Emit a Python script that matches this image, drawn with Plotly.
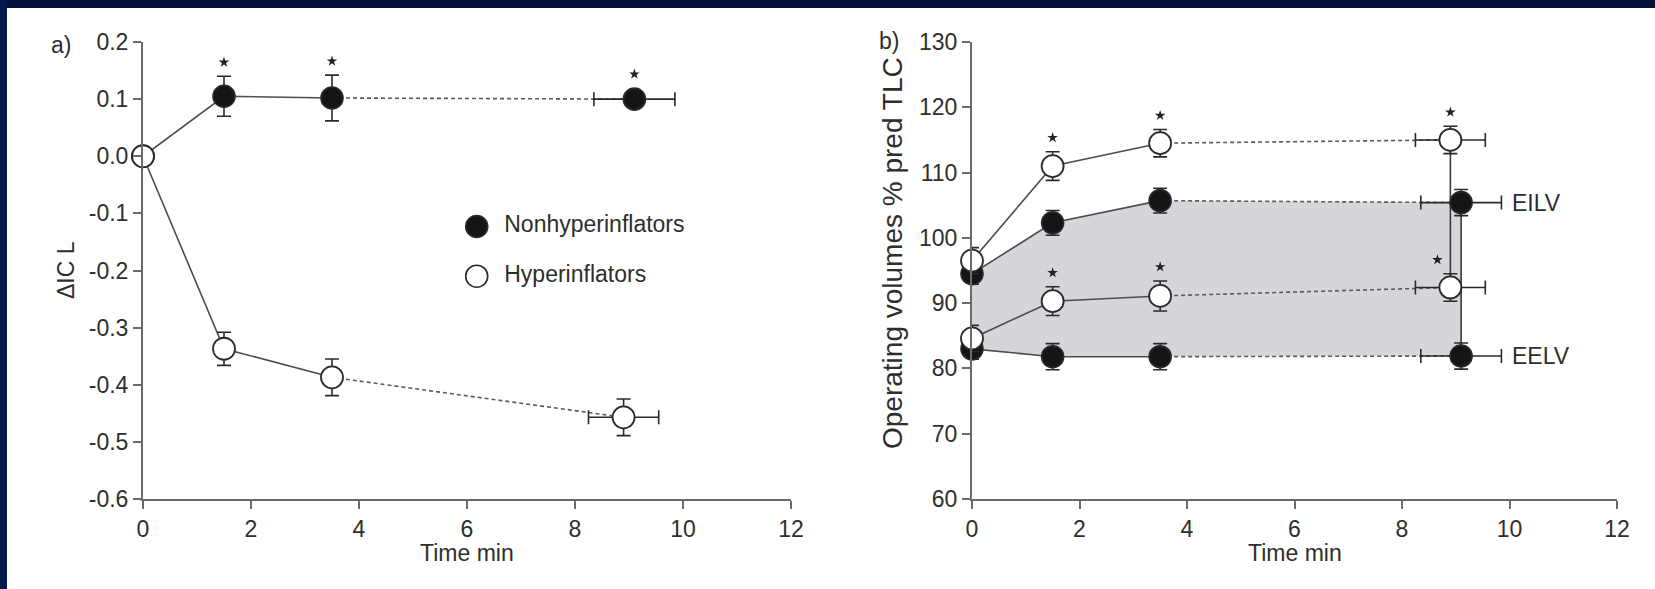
import plotly.graph_objects as go

# ---------------- data ----------------
# Time points (min); the final point is the end-exercise mean with its SD of time
time_nonhyp = [0, 1.5, 3.5, 9.1]
time_hyp = [0, 1.5, 3.5, 8.9]
time_err_nonhyp = [0, 0, 0, 0.75]
time_err_hyp = [0, 0, 0, 0.65]

# Panel a: change in inspiratory capacity (L)
dic_nonhyp = [0.0, 0.105, 0.102, 0.100]
dic_nonhyp_err = [0.0, 0.035, 0.040, 0.012]
dic_hyp = [0.0, -0.337, -0.387, -0.457]
dic_hyp_err = [0.0, 0.029, 0.032, 0.032]

# Panel b: operating lung volumes (% predicted TLC)
eilv_nonhyp = [94.5, 102.3, 105.7, 105.4]
eilv_nonhyp_err = [1.6, 1.9, 1.9, 2.0]
eelv_nonhyp = [83.0, 81.8, 81.8, 81.9]
eelv_nonhyp_err = [1.6, 2.0, 2.0, 2.0]
eilv_hyp = [96.5, 111.0, 114.5, 115.0]
eilv_hyp_err = [2.0, 2.2, 2.1, 2.1]
eelv_hyp = [84.6, 90.3, 91.1, 92.4]
eelv_hyp_err = [2.0, 2.2, 2.3, 2.1]

# indices of time points flagged as significant (*)
starred = [1, 2, 3]

# axis ticks
x_ticks = [0, 2, 4, 6, 8, 10, 12]
a_ticks = [0.2, 0.1, 0.0, -0.1, -0.2, -0.3, -0.4, -0.5, -0.6]
a_ticklabels = ["0.2", "0.1", "0.0", "-0.1", "-0.2", "-0.3", "-0.4", "-0.5", "-0.6"]
b_ticks = [60, 70, 80, 90, 100, 110, 120, 130]
b_ticklabels = ["60", "70", "80", "90", "100", "110", "120", "130"]

# ---------------- geometry & style ----------------
W, H = 1655, 589
A_X0, A_X1 = 143, 791
B_X0, B_X1 = 972, 1617
Y_TOP, Y_BOT = 42, 499
A_RANGE = [-0.6, 0.2]
B_RANGE = [60, 130]
X_RANGE = [0, 12]

FONT = "Liberation Sans, Arial, Helvetica, sans-serif"
TXT = "#2e2e2e"
AXC = "#6b6b6b"
MARK_LINE = "#2a2a2a"
LINE_C = "#4d4d4d"
MSIZE = 22


def pxx(x):
    return x / W


def pxy(y):
    return 1 - y / H


a_ppu = (Y_BOT - Y_TOP) / (A_RANGE[1] - A_RANGE[0])
b_ppu = (Y_BOT - Y_TOP) / (B_RANGE[1] - B_RANGE[0])
x_ppu = (A_X1 - A_X0) / (X_RANGE[1] - X_RANGE[0])

fig = go.Figure()


def add_series(xa, ya, t, y, yerr, terr, filled, name):
    # solid segment for the first three samples, dashed to the end point
    fig.add_trace(go.Scatter(x=t[:3], y=y[:3], mode="lines", xaxis=xa, yaxis=ya,
                             line=dict(color=LINE_C, width=1.6), showlegend=False,
                             hoverinfo="skip"))
    fig.add_trace(go.Scatter(x=t[2:], y=y[2:], mode="lines", xaxis=xa, yaxis=ya,
                             line=dict(color="#5a5a5a", width=1.6, dash="4px,3px"),
                             showlegend=False, hoverinfo="skip"))
    fig.add_trace(go.Scatter(
        x=t, y=y, mode="markers", xaxis=xa, yaxis=ya, name=name, showlegend=False,
        cliponaxis=False,
        marker=dict(size=MSIZE, color="#151515" if filled else "white",
                    line=dict(color=MARK_LINE, width=1.6 if filled else 1.8)),
        error_y=dict(type="data", array=yerr, color=MARK_LINE, thickness=1.6, width=7),
        error_x=dict(type="data", array=terr, color=MARK_LINE, thickness=1.6, width=7),
    ))


def add_stars(xa, ya, t, y, yerr, ppu, xshift_px=None):
    sx, sy = [], []
    for k, i in enumerate(starred):
        off = max(yerr[i] * ppu, MSIZE / 2) + 14
        shift = 0 if xshift_px is None else xshift_px[k]
        sx.append(t[i] + shift / x_ppu)
        sy.append(y[i] + off / ppu)
    fig.add_trace(go.Scatter(x=sx, y=sy, mode="markers", xaxis=xa, yaxis=ya,
                             cliponaxis=False, showlegend=False, hoverinfo="skip",
                             marker=dict(symbol="star", size=8, color="#222",
                                         line=dict(width=0))))


# ---------- panel a ----------
add_series("x", "y", time_nonhyp, dic_nonhyp, dic_nonhyp_err, time_err_nonhyp, True,
           "Nonhyperinflators")
add_series("x", "y", time_hyp, dic_hyp, dic_hyp_err, time_err_hyp, False, "Hyperinflators")
add_stars("x", "y", time_nonhyp, dic_nonhyp, dic_nonhyp_err, a_ppu)

# legend keys drawn inside panel a
fig.add_trace(go.Scatter(
    x=[6.18, 6.18], y=[-0.123, -0.21], mode="markers+text", xaxis="x", yaxis="y",
    text=["  Nonhyperinflators", "  Hyperinflators"], textposition="middle right",
    textfont=dict(family=FONT, size=23, color=TXT), showlegend=False, hoverinfo="skip",
    marker=dict(size=MSIZE, color=["#151515", "white"], line=dict(color=MARK_LINE, width=1.6)),
))

# ---------- panel b ----------
# shaded tidal-volume band of the nonhyperinflators
fig.add_trace(go.Scatter(
    x=time_nonhyp + time_nonhyp[::-1], y=eilv_nonhyp + eelv_nonhyp[::-1],
    mode="lines", fill="toself", fillcolor="#d5d6d9", line=dict(width=0),
    xaxis="x2", yaxis="y2", showlegend=False, hoverinfo="skip"))

# vertical links between EILV and EELV at the end-exercise point
fig.add_trace(go.Scatter(x=[time_hyp[-1]] * 2, y=[eilv_hyp[-1], eelv_hyp[-1]], mode="lines",
                         xaxis="x2", yaxis="y2", line=dict(color="#3a3a3a", width=1.6),
                         showlegend=False, hoverinfo="skip"))
fig.add_trace(go.Scatter(x=[time_nonhyp[-1]] * 2, y=[eilv_nonhyp[-1], eelv_nonhyp[-1]],
                         mode="lines", xaxis="x2", yaxis="y2",
                         line=dict(color="#3a3a3a", width=1.6),
                         showlegend=False, hoverinfo="skip"))

add_series("x2", "y2", time_nonhyp, eilv_nonhyp, eilv_nonhyp_err, time_err_nonhyp, True, "EILV")
add_series("x2", "y2", time_nonhyp, eelv_nonhyp, eelv_nonhyp_err, time_err_nonhyp, True, "EELV")
add_series("x2", "y2", time_hyp, eilv_hyp, eilv_hyp_err, time_err_hyp, False, "EILV")
add_series("x2", "y2", time_hyp, eelv_hyp, eelv_hyp_err, time_err_hyp, False, "EELV")
add_stars("x2", "y2", time_hyp, eilv_hyp, eilv_hyp_err, b_ppu)
add_stars("x2", "y2", time_hyp, eelv_hyp, eelv_hyp_err, b_ppu, xshift_px=[0, 0, -13])

# ---------------- axes ----------------
axis_common = dict(showline=True, linecolor=AXC, linewidth=2, ticks="outside", ticklen=8,
                   tickwidth=2, tickcolor=AXC, showgrid=False, zeroline=False,
                   automargin=False,
                   tickfont=dict(family=FONT, size=23, color=TXT), fixedrange=True)

ydom = [pxy(Y_BOT), pxy(Y_TOP)]
fig.update_layout(
    width=W, height=H, autosize=False,
    margin=dict(l=0, r=0, t=0, b=0, pad=0),
    paper_bgcolor="white", plot_bgcolor="white",
    showlegend=False,
    xaxis=dict(domain=[pxx(A_X0), pxx(A_X1)], range=X_RANGE, tickvals=x_ticks,
               anchor="y", **axis_common),
    yaxis=dict(domain=ydom, range=A_RANGE, tickvals=a_ticks, ticktext=a_ticklabels,
               anchor="x", **axis_common),
    xaxis2=dict(domain=[pxx(B_X0), pxx(B_X1)], range=X_RANGE, tickvals=x_ticks,
                anchor="y2", **axis_common),
    yaxis2=dict(domain=ydom, range=B_RANGE, tickvals=b_ticks, ticktext=b_ticklabels,
                anchor="x2", **axis_common),
)

tfont = dict(family=FONT, size=23, color=TXT)
ann = [
    dict(text="a)", x=pxx(61), y=pxy(45), xref="paper", yref="paper"),
    dict(text="b)", x=pxx(889), y=pxy(41), xref="paper", yref="paper"),
    dict(text="ΔIC L", x=pxx(66), y=pxy(270), xref="paper", yref="paper", textangle=-90),
    dict(text="Operating volumes % pred TLC", x=pxx(893), y=pxy(253), xref="paper",
         yref="paper", textangle=-90, font=dict(family=FONT, size=28, color=TXT)),
    dict(text="Time min", x=6, y=pxy(553), xref="x", yref="paper"),
    dict(text="Time min", x=6, y=pxy(553), xref="x2", yref="paper"),
    dict(text="EILV", x=10.0, y=eilv_nonhyp[-1], xref="x2", yref="y2", xanchor="left"),
    dict(text="EELV", x=10.0, y=eelv_nonhyp[-1], xref="x2", yref="y2", xanchor="left"),
]
for a in ann:
    a.setdefault("font", tfont)
    a.setdefault("xanchor", "center")
    a["yanchor"] = "middle"
    a["showarrow"] = False
    fig.add_annotation(**a)

# dark frame along the top and left edges
fig.add_shape(type="rect", xref="paper", yref="paper", x0=0, x1=1, y0=pxy(8), y1=1,
              fillcolor="#02123a", line=dict(width=0), layer="above")
fig.add_shape(type="rect", xref="paper", yref="paper", x0=0, x1=pxx(7), y0=0, y1=1,
              fillcolor="#031a4c", line=dict(width=0), layer="above")

fig.write_html("out.html")
